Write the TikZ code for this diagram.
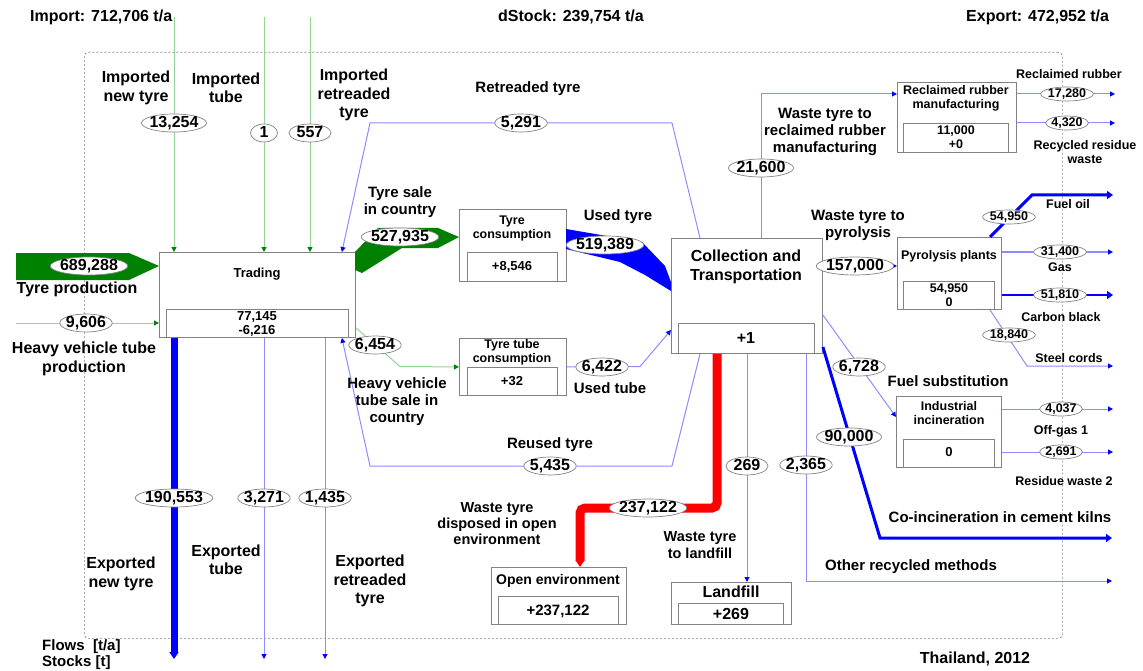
\documentclass[tikz,border=0pt]{standalone}
\usepackage{fontspec}
\setmainfont{Liberation Sans}
\usetikzlibrary{arrows.meta,shapes.geometric}
\definecolor{dgreen}{RGB}{0,128,0}
\definecolor{lgreen}{RGB}{150,210,150}
\definecolor{lblue}{RGB}{140,140,255}
\definecolor{fblue}{RGB}{0,0,255}
\definecolor{fred}{RGB}{255,0,0}
\definecolor{boxgray}{RGB}{130,130,130}
\newcommand{\fontBig}{\fontsize{16}{18.5}\selectfont\bfseries}
\newcommand{\fontMid}{\fontsize{15}{17}\selectfont\bfseries}
\newcommand{\fontSm}{\fontsize{12.5}{14}\selectfont\bfseries}
\newcommand{\fontBox}{\fontsize{13}{14.5}\selectfont\bfseries}
\newcommand{\procbox}[8]{%
  \node[pbox, anchor=north west, minimum width={(#4)-(#2)}, minimum height={(#5)-(#3)}] (#1) at (#2,#3) {};
  \node[pbox, anchor=north west, minimum width={(#8)-(#6)}, minimum height={(#5)-(#7)}] (#1in) at (#6,#7) {};}
\begin{document}
\begin{tikzpicture}[x=1pt,y=-1pt,
  pbox/.style={draw=boxgray, line width=0.9pt, fill=white, inner sep=0pt},
  bound/.style={draw=boxgray, dash pattern=on 2pt off 2pt, line width=0.7pt, rounded corners=4pt, inner sep=0pt},
  val/.style={ellipse, draw=boxgray, fill=white, line width=0.7pt, inner xsep=-1.5pt, inner ysep=-4pt, minimum height=18pt, minimum width=42pt, text height=11.5pt, text depth=2.5pt, font=\fontBig},
  sval/.style={val, inner xsep=-0.5pt, minimum height=14pt, minimum width=36pt, text height=9pt, text depth=2pt, font=\fontSm},
  lbl/.style={align=center, font=\fontBig, inner sep=0pt},
  mlbl/.style={align=center, font=\fontMid, inner sep=0pt},
  slbl/.style={align=center, font=\fontSm, inner sep=0pt},
  btxt/.style={align=center, font=\fontBox, inner sep=0pt},
  gflow/.style={draw=lgreen, line width=1pt, -{Triangle[length=5pt,width=5pt,color=dgreen]}},
  bflow/.style={draw=lblue, line width=1pt, -{Triangle[length=5pt,width=5pt,color=fblue]}},
  tflow/.style={draw=fblue, line width=3pt, -{Triangle[length=6pt,width=8pt]}}
]
\path[use as bounding box] (0,0) rectangle (1143,671);
\node[bound, anchor=north west, minimum width=978pt, minimum height=586pt] (system) at (84,52) {};

% process boxes
\procbox{trading}{159}{252}{355}{337}{166}{309}{348}
\procbox{tyrecons}{459}{209}{566}{281}{467}{252}{557}
\procbox{tubecons}{459}{338}{566}{395}{467}{367}{557}
\procbox{collect}{671}{238}{822}{353}{678}{323}{814}
\procbox{reclaim}{897}{82}{1016}{152}{903}{123}{1008}
\procbox{pyro}{897}{237}{1001}{309}{903}{281}{994}
\procbox{incin}{896}{396}{1001}{467}{903}{439}{994}
\procbox{landfill}{671}{582}{791}{624}{678}{603}{783}
\procbox{openenv}{491}{567}{626}{624}{498}{596}{618}

% imports
\coordinate (impNew) at (174,17);
\coordinate (impTube) at (264,17);
\coordinate (impRet) at (310,17);
\draw[gflow] (impNew) -- (impNew |- trading.north);
\draw[gflow] (impTube) -- (impTube |- trading.north);
\draw[gflow] (impRet) -- (impRet |- trading.north);

% tyre production
\fill[dgreen] (16,253) -- (129,253) -- (trading.west |- 0,266) -- (129,280) -- (16,280) -- cycle;
\coordinate (hvtp) at (16,323);
\draw[gflow] (hvtp) -- (hvtp -| trading.west);

% exports
\coordinate (expNew) at (174,659);
\coordinate (expTube) at (264,659);
\coordinate (expRet) at (325,659);
\draw[fblue, line width=7pt, -{Triangle[length=7pt,width=9pt]}] (expNew |- trading.south) -- (expNew);
\draw[bflow] (expTube |- trading.south) -- (expTube);
\draw[bflow] (expRet |- trading.south) -- (expRet);

% tyre sale in country
\fill[dgreen] (355,252) -- (378,228) -- (438,228) -- (tyrecons.west |- 0,237) -- (438,248) -- (402,248) -- (362,273) -- (355,270) -- cycle;
% used tyre
\fill[fblue] (566,229) -- (642,242) -- (665,266) -- (collect.west |- 0,282) -- (collect.west |- 0,291) -- (645,275) -- (620,262) -- (566,249) -- cycle;

% retreaded tyre
\coordinate (rt1) at (672,123);
\coordinate (rt2) at (370,123);
\draw[bflow] ([xshift=29pt]collect.north west) -- (rt1) -- (rt2) -- ([xshift=-14pt]trading.north east);
% reused tyre
\coordinate (ru1) at (672,466);
\coordinate (ru2) at (370,466);
\draw[bflow] ([xshift=29pt]collect.south west) -- (ru1) -- (ru2) -- ([xshift=-14pt]trading.south east);
% heavy vehicle tube sale
\coordinate (hv1) at (400,366.5);
\draw[gflow] ([yshift=10pt]trading.south east) -- (hv1) -- (tubecons.west);
% used tube
\coordinate (ut1) at (640,366.5);
\draw[bflow] (tubecons.east) -- (ut1) -- (collect.west |- 0,330);

% to reclaimed rubber
\coordinate (rr1) at (761,94);
\draw[bflow] (collect.north -| rr1) -- (rr1) -- (reclaim.west |- rr1);
\coordinate (rrOut) at (1115,94);
\coordinate (rwOut) at (1115,123);
\draw[bflow] (reclaim.east |- rrOut) -- (rrOut);
\draw[bflow] (reclaim.east |- rwOut) -- (rwOut);

% pyrolysis
\draw[bflow] (collect.east |- 0,266) -- (pyro.west |- 0,266);
\coordinate (fo1) at (1032,195);
\coordinate (foOut) at (1113,195);
\draw[tflow] (pyro.north -| 990,0) -- (fo1) -- (foOut);
\coordinate (gasOut) at (1113,252);
\draw[bflow, line width=1.5pt] (pyro.east |- gasOut) -- (gasOut);
\coordinate (cbOut) at (1113,295);
\draw[tflow, line width=2.5pt] (pyro.east |- cbOut) -- (cbOut);
\coordinate (sc1) at (1027,366);
\coordinate (scOut) at (1113,366);
\draw[bflow] (pyro.south -| 990,0) -- (sc1) -- (scOut);

% industrial incineration
\draw[bflow] (collect.east |- 0,315) -- (incin.west |- 0,417);
\coordinate (ogOut) at (1113,409);
\coordinate (rsOut) at (1113,452);
\draw[bflow] (incin.east |- ogOut) -- (ogOut);
\draw[bflow] (incin.east |- rsOut) -- (rsOut);

% co-incineration
\coordinate (ci1) at (880,538);
\coordinate (ciOut) at (1112,538);
\draw[tflow] (collect.east |- 0,347) -- (ci1) -- (ciOut);
% other recycled
\coordinate (or1) at (806,581);
\coordinate (orOut) at (1112,581);
\draw[bflow] (collect.south -| or1) -- (or1) -- (orOut);
% landfill
\draw[bflow] (collect.south -| 747,0) -- (landfill.north -| 747,0);
% open environment
\coordinate (oe1) at (717,508);
\coordinate (oe2) at (580,508);
\draw[fred, line width=9pt, rounded corners=5pt, -{Triangle[length=7pt,width=9pt]}] (collect.south -| oe1) -- (oe1) -- (oe2) -- (openenv.north -| oe2);

% flow values
\node[val] (v1) at (174,123) {13,254};
\node[val, minimum width=27pt] (v2) at (264,133) {1};
\node[val] (v3) at (310,133) {557};
\node[val] (v4) at (89,266) {689,288};
\node[val] (v5) at (86,323) {9,606};
\node[val] (v6) at (174,498) {190,553};
\node[val] (v7) at (264,498) {3,271};
\node[val] (v8) at (325,498) {1,435};
\node[val] (v9) at (521,123) {5,291};
\node[val] (v10) at (400,237) {527,935};
\node[val] (v11) at (605,245) {519,389};
\node[val] (v12) at (375,345) {6,454};
\node[val] (v13) at (602,367) {6,422};
\node[val] (v14) at (550,466) {5,435};
\node[val] (v15) at (761,168) {21,600};
\node[val] (v16) at (855,266) {157,000};
\node[val] (v17) at (859,367) {6,728};
\node[val] (v18) at (849,437) {90,000};
\node[val] (v19) at (806,465) {2,365};
\node[val] (v20) at (747,466) {269};
\node[val] (v21) at (648,508) {237,122};
\node[sval] (s1) at (1067,94) {17,280};
\node[sval] (s2) at (1067,123) {4,320};
\node[sval] (s3) at (1009,217) {54,950};
\node[sval] (s4) at (1060,252) {31,400};
\node[sval] (s5) at (1060,295) {51,810};
\node[sval] (s6) at (1009,335) {18,840};
\node[sval] (s7) at (1061,409) {4,037};
\node[sval] (s8) at (1061,452) {2,691};

% box texts
\node[btxt] (tTrading) at (257,274) {Trading};
\node[btxt] (tTradingS) at (257,324) {77,145\\-6,216};
\node[btxt, font=\fontSm] (tTyre) at (512,228) {Tyre\\consumption};
\node[btxt] (tTyreS) at (512,267) {+8,546};
\node[btxt, font=\fontSm] (tTube) at (512,352) {Tyre tube\\consumption};
\node[btxt] (tTubeS) at (512,381) {+32};
\node[lbl] (tColl) at (746,267) {Collection and\\Transportation};
\node[lbl] (tCollS) at (746,338) {+1};
\node[btxt, font=\fontSm] (tRecl) at (956,98) {Reclaimed rubber\\manufacturing};
\node[btxt, font=\fontSm] (tReclS) at (956,137) {11,000\\+0};
\node[btxt, font=\fontSm] (tPyro) at (949,256) {Pyrolysis plants};
\node[btxt, font=\fontSm] (tPyroS) at (949,295) {54,950\\0};
\node[btxt, font=\fontSm] (tInc) at (949,413) {Industrial\\incineration};
\node[btxt] (tIncS) at (949,452) {0};
\node[btxt, font=\fontsize{14}{16}\selectfont\bfseries] (tOpen) at (558,581) {Open environment};
\node[btxt, font=\fontMid] (tOpenS) at (558,611) {+237,122};
\node[lbl] (tLand) at (731,592) {Landfill};
\node[lbl] (tLandS) at (731,614) {+269};

% flow labels
\node[lbl, anchor=west] (import) at (30,17) {Import: 712,706 t/a};
\node[lbl, anchor=west] (dstock) at (498,17) {dStock: 239,754 t/a};
\node[lbl, anchor=west] (export) at (966,17) {Export: 472,952 t/a};
\node[lbl] (lImpNew) at (136,88) {Imported\\new tyre};
\node[lbl] (lImpTube) at (226,88) {Imported\\tube};
\node[lbl] (lImpRet) at (354,95) {Imported\\retreaded\\tyre};
\node[lbl] (lTProd) at (77,289) {Tyre production};
\node[lbl] (lHvtp) at (84,359) {Heavy vehicle tube\\production};
\node[mlbl] (lRet) at (528,89) {Retreaded tyre};
\node[mlbl] (lSale) at (400,202) {Tyre sale\\in country};
\node[mlbl] (lUsed) at (618,217) {Used tyre};
\node[mlbl] (lHvs) at (397,402) {Heavy vehicle\\tube sale in\\country};
\node[mlbl] (lUTube) at (610,388) {Used tube};
\node[mlbl] (lReused) at (550,445) {Reused tyre};
\node[lbl] (lExpNew) at (121,574) {Exported\\new tyre};
\node[lbl] (lExpTube) at (226,560) {Exported\\tube};
\node[lbl] (lExpRet) at (370,581) {Exported\\retreaded\\tyre};
\node[btxt, font=\fontsize{14.5}{16}\selectfont\bfseries] (lOpen) at (497,524) {Waste tyre\\disposed in open\\environment};
\node[btxt, font=\fontsize{14.5}{16.5}\selectfont\bfseries] (lLand) at (700,545) {Waste tyre\\to landfill};
\node[mlbl] (lRecl) at (825,132) {Waste tyre to\\reclaimed rubber\\manufacturing};
\node[mlbl] (lPyro) at (858,225) {Waste tyre to\\pyrolysis};
\node[mlbl] (lFuel) at (948,381) {Fuel substitution};
\node[mlbl] (lCoinc) at (1000,517) {Co-incineration in cement kilns};
\node[mlbl] (lOther) at (911,567) {Other recycled methods};
\node[slbl] (lRRub) at (1069,74) {Reclaimed rubber};
\node[slbl] (lRRes) at (1085,152) {Recycled residue\\waste};
\node[slbl] (lFO) at (1068,204) {Fuel oil};
\node[slbl] (lGas) at (1060,267) {Gas};
\node[slbl] (lCB) at (1061,317) {Carbon black};
\node[slbl] (lSC) at (1069,358) {Steel cords};
\node[slbl] (lOG) at (1061,431) {Off-gas 1};
\node[slbl] (lRW) at (1064,481) {Residue waste 2};
\node[mlbl, anchor=west] (lFlows) at (42,647) {Flows~~[t/a]};
\node[mlbl, anchor=west] (lStocks) at (42,663) {Stocks [t]};
\node[lbl] (lThai) at (975,659) {Thailand, 2012};
\end{tikzpicture}
\end{document}
